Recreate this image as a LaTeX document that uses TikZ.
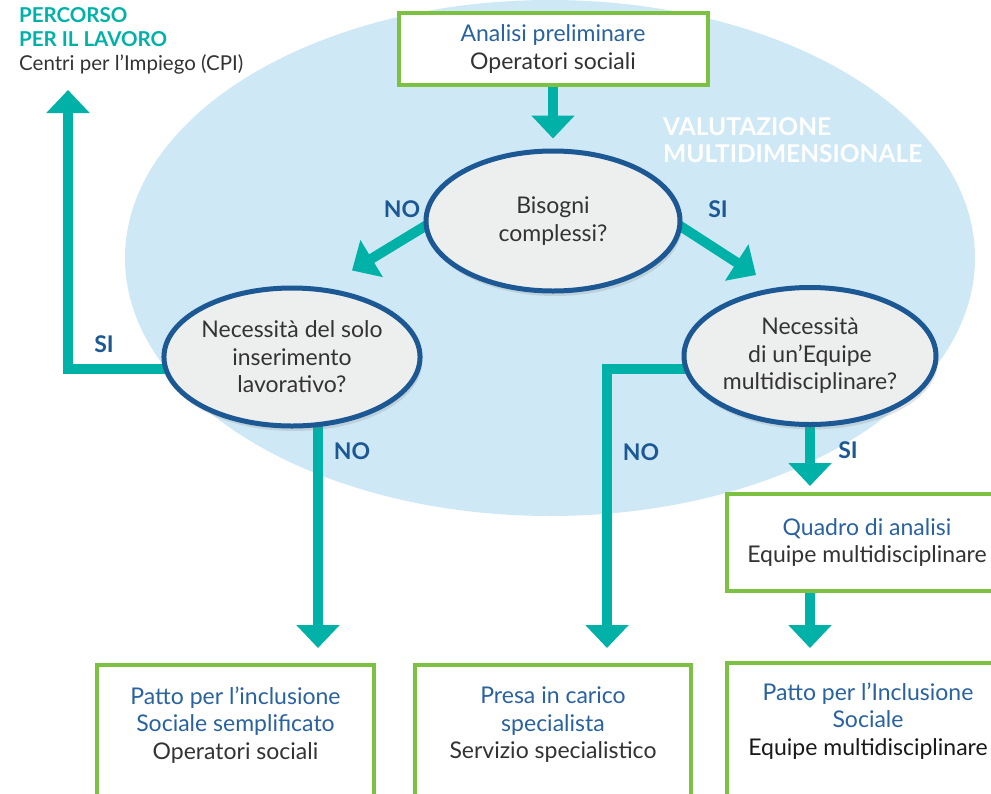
\documentclass[tikz,border=0pt]{standalone}
\usepackage{fontspec}
\setmainfont{Lato}
\usetikzlibrary{arrows.meta,shapes.geometric,shadows,calc}
\definecolor{bgblue}{HTML}{CFE8F5}
\definecolor{tealc}{HTML}{00B1A7}
\definecolor{dblue}{HTML}{1B5894}
\definecolor{gbox}{HTML}{7CC142}
\definecolor{egray}{HTML}{EDEEEE}
\definecolor{txt}{HTML}{333333}
\definecolor{ttl}{HTML}{2A62A0}
\pgfdeclarelayer{back}
\pgfdeclarelayer{mid}
\pgfsetlayers{back,mid,main}
\begin{document}
\begin{tikzpicture}[x=1pt,y=-1pt,
  fnt/.style={font=\fontsize{23}{27.5}\selectfont},
  box/.style={draw=gbox,line width=4pt,fill=white,inner sep=0pt},
  q/.style={ellipse,draw=dblue,line width=5pt,fill=egray,inner sep=0pt,align=center,text=txt,fnt,
     drop shadow={opacity=0.22,shadow xshift=2pt,shadow yshift=-5pt}},
  btxt/.style={align=center,text=txt,fnt},
  flow/.style={draw=tealc,line width=10pt,line join=miter,-{Triangle[width=42pt,length=23pt]}},
  lbl/.style={font=\bfseries\fontsize{23}{23}\selectfont,text=dblue},
]
\useasboundingbox (0,0) rectangle (991,793);
\clip (0,0) rectangle (991,793);
\begin{pgfonlayer}{back}
\fill[bgblue] (550,258) ellipse [x radius=425pt, y radius=258pt];
\end{pgfonlayer}

\node[box,minimum width=309pt,minimum height=72pt,btxt] (a) at (553,49) {\textcolor{ttl}{Analisi preliminare}\\Operatori sociali};
\node[q,minimum width=254pt,minimum height=140pt] (bis) at (553,221) {Bisogni\\complessi?};
\node[q,minimum width=253pt,minimum height=138pt] (left) at (292,357) {Necessità del solo\\inserimento\\lavorativo?};
\node[q,minimum width=252pt,minimum height=137pt] (right) at (810,356) {Necessità\\di un’Equipe\\multidisciplinare?};
\node[box,minimum width=280pt,minimum height=97pt,btxt] (quad) at (867,542.5) {\textcolor{ttl}{Quadro di analisi}\\Equipe multidisciplinare};

\node[box,minimum width=277pt,minimum height=170pt,anchor=north] (b1) at (235.5,663) {};
\node[btxt] (t1) at ($(b1.north)+(0,62)$) {\textcolor{ttl}{Patto per l’inclusione}\\\textcolor{ttl}{Sociale semplificato}\\Operatori sociali};
\node[box,minimum width=276pt,minimum height=170pt,anchor=north] (b2) at (553,663) {};
\node[btxt] (t2) at ($(b2.north)+(0,62)$) {\textcolor{ttl}{Presa in carico}\\\textcolor{ttl}{specialista}\\Servizio specialistico};
\node[box,minimum width=282pt,minimum height=170pt,anchor=north] (b3) at (868,661) {};
\node[btxt] (t3) at ($(b3.north)+(0,60)$) {\textcolor{ttl}{Patto per l’Inclusione}\\\textcolor{ttl}{Sociale}\\\textcolor{black!90}{Equipe multidisciplinare}};

\node[anchor=north west,align=left,inner sep=0pt,text=txt,font=\fontsize{20.5}{24}\selectfont] (perc) at (19,7)
  {\textcolor{tealc}{\bfseries PERCORSO}\\\textcolor{tealc}{\bfseries PER IL LAVORO}\\Centri per l’Impiego (CPI)};
\node[anchor=north west,align=left,inner sep=0pt,text=white,font=\bfseries\fontsize{24.5}{27.5}\selectfont] (val) at (663,117)
  {VALUTAZIONE\\MULTIDIMENSIONALE};

\node[lbl] (no1) at (402,209) {NO};
\node[lbl] (si1) at (718,209) {SI};
\node[lbl] (si2) at (104,344) {SI};
\node[lbl] (no2) at (352,451) {NO};
\node[lbl] (no3) at (641,452) {NO};
\node[lbl] (si3) at (848,450) {SI};

\begin{pgfonlayer}{mid}
\coordinate (cpi) at (68,90);
\draw[flow] (a.south) -- ($(bis.north)+(0,-10)$);
\draw[flow] ($(bis.west)+(10,0)$) -- ($(left.north)+(60,-15)$);
\draw[flow] ($(bis.east)+(-10,0)$) -- ($(right.north)+(-54,-10)$);
\draw[flow] ($(left.west)+(20,12)$) -| (cpi);
\draw[flow] ($(left.south)+(26,-20)$) -- ($(b1.north)+(82.5,-15)$);
\draw[flow] ($(right.west)+(20,13)$) -| ($(b2.north)+(54,-15)$);
\draw[flow] ($(right.south)+(0,-20)$) -- ($(right.south |- quad.north)+(0,-6)$);
\draw[flow] (quad.south -| right.south) -- ($(right.south |- b3.north)+(0,-13)$);
\end{pgfonlayer}
\end{tikzpicture}
\end{document}
